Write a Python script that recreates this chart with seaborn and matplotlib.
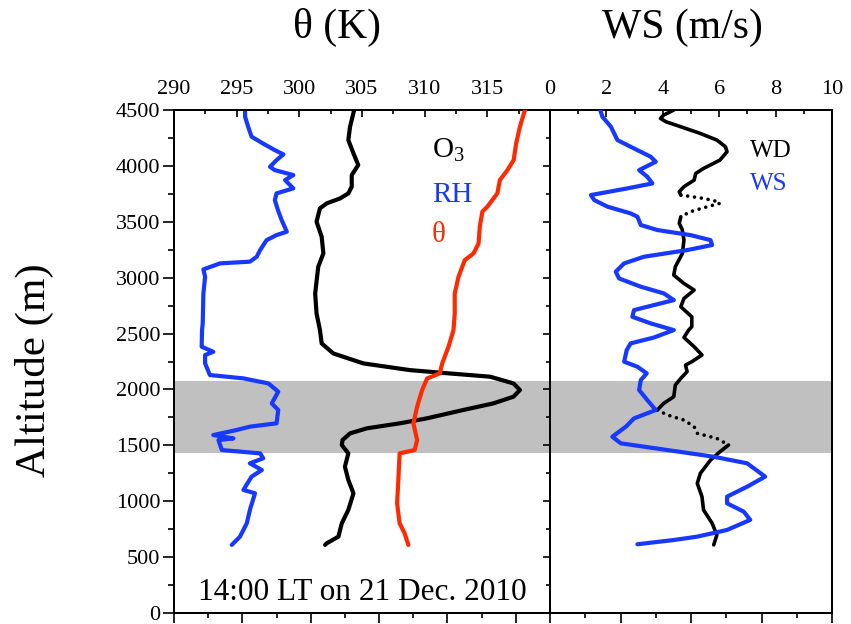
import numpy as np
import pandas as pd
import seaborn as sns
import matplotlib
matplotlib.use("Agg")
import matplotlib.pyplot as plt
from matplotlib.ticker import MultipleLocator, FixedLocator

# ---------------- data ----------------
rh_alt = [4500, 4439, 4350, 4261, 4201, 4141, 4103, 4052, 3992, 3962, 3918, 3873, 3799,
          3754, 3694, 3605, 3515, 3411, 3381, 3336, 3247, 3187, 3143, 3128, 3074, 3008,
          2859, 2591, 2531, 2382, 2337, 2308, 2233, 2129, 2099, 2054, 1980, 1875, 1816,
          1697, 1667, 1637, 1592, 1562, 1547, 1503, 1458, 1428, 1384, 1339, 1279, 1220,
          1101, 1071, 922, 803, 683, 609]
rh_val = [20.8, 20.8, 21.7, 22.7, 26.0, 29.5, 32.0, 30.0, 28.1, 29.5, 34.9, 32.5, 34.9,
          30.0, 29.5, 30.4, 31.5, 33.0, 30.0, 27.1, 25.2, 24.2, 22.2, 13.5, 8.6, 9.1,
          8.6, 8.4, 8.2, 8.1, 11.5, 9.1, 9.1, 10.5, 20.3, 27.6, 30.5, 28.6, 30.5,
          30.0, 22.2, 18.3, 11.5, 17.4, 13.0, 13.5, 14.0, 25.2, 26.1, 22.2, 25.7, 22.7,
          20.3, 23.7, 22.2, 21.3, 19.3, 16.9]

o3_alt = [4500, 4350, 4231, 4112, 4008, 3918, 3814, 3754, 3709, 3665, 3620, 3501, 3366,
          3217, 3098, 2859, 2680, 2531, 2412, 2322, 2233, 2173, 2143, 2114, 2054, 1995,
          1935, 1875, 1816, 1741, 1697, 1652, 1607, 1547, 1503, 1428, 1309, 1190, 1071,
          922, 803, 683, 624, 609]
o3_val = [52.7, 51.5, 51.0, 52.5, 53.9, 52.0, 52.0, 51.0, 48.6, 44.7, 42.7, 41.7, 43.2,
          43.7, 42.2, 41.3, 41.7, 42.7, 43.2, 46.6, 55.4, 69.0, 80.7, 92.5, 99.3, 101.2,
          99.3, 93.4, 84.6, 73.9, 66.1, 56.4, 51.5, 49.3, 49.1, 51.0, 50.0, 51.0, 52.5,
          51.0, 49.1, 48.1, 44.7, 44.2]

th_alt = [4500, 4350, 4201, 4052, 3962, 3873, 3754, 3635, 3590, 3456, 3306, 3217, 3157,
          3008, 2859, 2680, 2531, 2382, 2233, 2143, 2099, 1995, 1846, 1697, 1547, 1458,
          1428, 1190, 981, 803, 713, 609]
th_val = [318.0, 317.6, 317.3, 317.1, 316.6, 316.0, 315.8, 315.0, 314.6, 314.4, 314.3,
          313.9, 313.2, 312.7, 312.4, 312.4, 312.3, 311.9, 311.4, 311.2, 310.2, 309.8,
          309.4, 309.1, 309.4, 309.2, 308.0, 307.9, 307.8, 308.0, 308.4, 308.7]

ws_alt = [4500, 4439, 4350, 4231, 4171, 4082, 4037, 3962, 3903, 3843, 3799, 3739, 3694,
          3635, 3575, 3545, 3471, 3426, 3381, 3336, 3292, 3247, 3187, 3128, 3053, 2993,
          2919, 2859, 2799, 2755, 2710, 2650, 2591, 2531, 2465, 2412, 2352, 2248, 2203,
          2144, 2084, 1995, 1905, 1816, 1741, 1667, 1577, 1518, 1458, 1398, 1339, 1220,
          1130, 1041, 981, 907, 833, 743, 683, 653, 615]
ws_val = [1.78, 1.86, 2.16, 2.39, 2.86, 3.57, 3.75, 3.16, 3.45, 3.63, 2.75, 1.45, 1.57,
          2.04, 2.86, 3.10, 3.22, 3.81, 4.98, 5.69, 5.75, 4.87, 3.33, 2.63, 2.33, 2.45,
          3.22, 4.04, 4.39, 3.69, 2.98, 2.92, 3.57, 4.39, 3.69, 2.86, 2.72, 2.63, 3.10,
          3.43, 3.22, 3.16, 3.45, 3.75, 2.98, 2.69, 2.21, 2.51, 4.16, 5.81, 6.99, 7.63,
          6.99, 6.28, 6.28, 6.87, 7.10, 6.28, 5.22, 4.39, 3.10]

wd_alt = [4500, 4454, 4425, 4395, 4350, 4290, 4231, 4171, 4127, 4052, 3977, 3932, 3873,
          3814, 3769, 3739, 3709, 3679, 3665, 3635, 3590, 3545, 3486, 3426, 3336, 3217,
          3098, 3023, 2948, 2889, 2814, 2740, 2650, 2561, 2531, 2465, 2382, 2308, 2248,
          2218, 2159, 2099, 2039, 1935, 1875, 1816, 1771, 1726, 1667, 1607, 1562, 1503,
          1443, 1369, 1250, 1160, 1041, 922, 803, 698, 609]
wd_val = [158, 145, 141, 148, 167, 192, 213, 224, 226, 217, 196, 186, 184,
          171, 165, 167, 196, 215, 217, 201, 179, 167, 165, 169, 171, 169,
          160, 158, 171, 184, 171, 167, 181, 181, 177, 171, 184, 194, 181,
          173, 175, 167, 160, 158, 145, 137, 150, 171, 184, 188, 213, 228,
          217, 205, 192, 188, 194, 196, 207, 213, 209]
wd_sparse_ranges = [(3545, 3739), (1503, 1816)]   # sections drawn as dots

inversion_layer = (1430, 2080)

theta_ticks = [290, 295, 300, 305, 310, 315, 320]
theta_labels = ["290", "295", "300", "305", "310", "315", ""]
ws_ticks = [0, 2, 4, 6, 8, 10]
alt_ticks = [0, 500, 1000, 1500, 2000, 2500, 3000, 3500, 4000, 4500]

# ---------------- style ----------------
sns.set_theme(style="ticks")
plt.rcParams["font.family"] = ["Liberation Serif", "DejaVu Serif"]
plt.rcParams["mathtext.fontset"] = "custom"
plt.rcParams["mathtext.rm"] = "Liberation Serif"
plt.rcParams["mathtext.it"] = "Liberation Serif"
plt.rcParams["axes.linewidth"] = 1.4
for k in ["text.color", "axes.labelcolor", "xtick.color", "ytick.color",
          "axes.edgecolor", "xtick.labelcolor", "ytick.labelcolor"]:
    plt.rcParams[k] = "black"

BLUE = "#1638ff"
RED = "#ff2a00"
BLACK = "#000000"
GRAY = "#c0c0c0"
LW = 3.0

fig = plt.figure(figsize=(8.51, 6.24), dpi=100)
L, R, MID = 174 / 851, 832 / 851, 550 / 851
B, T = 1 - 613 / 624, 1 - 110 / 624
ax = fig.add_axes([L, B, MID - L, T - B])
ax2 = fig.add_axes([MID, B, R - MID, T - B], sharey=ax)

df_rh = pd.DataFrame({"alt": rh_alt, "val": rh_val})
df_o3 = pd.DataFrame({"alt": o3_alt, "val": o3_val})
df_th = pd.DataFrame({"alt": th_alt, "val": th_val})
df_ws = pd.DataFrame({"alt": ws_alt, "val": ws_val})
df_wd = pd.DataFrame({"alt": wd_alt, "val": wd_val})

# ---------- left panel ----------
ax.set_xlim(290, 320)
ax.set_ylim(0, 4500)

axc = ax.twiny()     # RH / O3 scale (bottom ticks only)
axc.set_xlim(0, 110)
axc.axhspan(*inversion_layer, color=GRAY, lw=0, zorder=0)
sns.lineplot(data=df_rh, x="val", y="alt", sort=False, estimator=None, ax=axc,
             color=BLUE, lw=LW, solid_capstyle="round", solid_joinstyle="round")
sns.lineplot(data=df_o3, x="val", y="alt", sort=False, estimator=None, ax=axc,
             color=BLACK, lw=LW, solid_capstyle="round", solid_joinstyle="round")
sns.lineplot(data=df_th, x="val", y="alt", sort=False, estimator=None, ax=ax,
             color=RED, lw=LW, solid_capstyle="round", solid_joinstyle="round", zorder=3)
ax.set_zorder(axc.get_zorder() + 1)
ax.patch.set_visible(False)
axc.patch.set_visible(False)

ax.set_xticks(theta_ticks)
ax.set_xticklabels(theta_labels)
ax.xaxis.set_minor_locator(MultipleLocator(2.5))
ax.set_yticks(alt_ticks)
ax.yaxis.set_minor_locator(MultipleLocator(250))
ax.xaxis.set_ticks_position("top")
ax.xaxis.set_label_position("top")
ax.tick_params(axis="x", which="both", top=True, bottom=False, direction="in",
               labeltop=True, labelbottom=False, labelsize=16, pad=8)
ax.tick_params(axis="x", which="major", length=5, width=1.2)
ax.tick_params(axis="x", which="minor", length=3, width=1.2)
ax.tick_params(axis="y", which="both", left=True, right=False, direction="out",
               labelleft=True, labelsize=16, pad=2)
ax.tick_params(axis="y", which="major", length=8, width=1.2)
ax.tick_params(axis="y", which="minor", length=4, width=1.2)
ax.set_xlabel("")
ax.set_ylabel("")

axc.xaxis.set_ticks_position("bottom")
axc.xaxis.set_major_locator(MultipleLocator(20))
axc.xaxis.set_minor_locator(FixedLocator([10, 30, 50, 70, 90]))
axc.tick_params(axis="x", which="both", direction="out", labelbottom=False,
                labeltop=False, top=False, bottom=True)
axc.tick_params(axis="x", which="major", length=7, width=1.2)
axc.tick_params(axis="x", which="minor", length=3.5, width=1.2)
axc.set_xlabel("")
axc.set_ylabel("")
axc.tick_params(axis="y", left=False, right=False, labelleft=False, labelright=False)

# right-side inward ticks on left panel
axr = ax.secondary_yaxis("right")
axr.set_yticks(alt_ticks)
axr.yaxis.set_minor_locator(MultipleLocator(250))
axr.tick_params(axis="y", which="both", direction="in", labelright=False)
axr.tick_params(axis="y", which="major", length=5, width=1.2)
axr.tick_params(axis="y", which="minor", length=3, width=1.2)

ax.text(0.5, 0.026, "14:00 LT on 21 Dec. 2010", transform=ax.transAxes,
        ha="center", va="baseline", fontsize=22.5, color="black")
ax.text(0.686, 0.905, r"O$_3$", transform=ax.transAxes, ha="left", va="baseline",
        fontsize=21, color=BLACK)
ax.text(0.686, 0.817, "RH", transform=ax.transAxes, ha="left", va="baseline",
        fontsize=21, color=BLUE)
ax.text(0.686, 0.738, "\u03b8", transform=ax.transAxes, ha="left", va="baseline",
        fontsize=21, color=RED)

# ---------- right panel ----------
ax2.set_xlim(0, 10)
axd = ax2.twiny()   # WD scale (bottom ticks only)
axd.set_xlim(0, 360)
axd.axhspan(*inversion_layer, color=GRAY, lw=0, zorder=0)

# split WD into dense (solid) and sparse (dotted) runs
alts = np.array(wd_alt, dtype=float)
sparse = np.zeros(len(alts), dtype=bool)
edge = np.zeros(len(alts), dtype=bool)
for lo, hi in wd_sparse_ranges:
    sparse |= (alts >= lo) & (alts <= hi)
    edge |= (alts == lo) | (alts == hi)
runs = []
cur_kind, cur = None, []
for i in range(len(alts)):
    kind = "dot" if sparse[i] else "solid"
    if cur_kind is None:
        cur_kind, cur = kind, [i]
    elif kind == cur_kind:
        cur.append(i)
    else:
        if edge[i]:
            cur.append(i)
            runs.append((cur_kind, cur))
            cur_kind, cur = kind, [i]
        else:
            runs.append((cur_kind, cur))
            cur_kind, cur = kind, [cur[-1], i]
runs.append((cur_kind, cur))
for kind, idx in runs:
    sub = df_wd.iloc[idx]
    if kind == "solid":
        sns.lineplot(data=sub, x="val", y="alt", sort=False, estimator=None, ax=axd,
                     color=BLACK, lw=2.6, solid_capstyle="round", solid_joinstyle="round")
    else:
        sns.lineplot(data=sub, x="val", y="alt", sort=False, estimator=None, ax=axd,
                     color=BLACK, lw=2.6, linestyle=(0, (0.01, 1.9)),
                     dash_capstyle="round")

sns.lineplot(data=df_ws, x="val", y="alt", sort=False, estimator=None, ax=ax2,
             color=BLUE, lw=LW, solid_capstyle="round", solid_joinstyle="round", zorder=3)
ax2.set_zorder(axd.get_zorder() + 1)
ax2.patch.set_visible(False)
axd.patch.set_visible(False)

ax2.set_xticks(ws_ticks)
ax2.xaxis.set_minor_locator(MultipleLocator(1))
ax2.xaxis.set_ticks_position("top")
ax2.tick_params(axis="x", which="both", top=True, bottom=False, direction="in",
                labeltop=True, labelbottom=False, labelsize=16, pad=8)
ax2.tick_params(axis="x", which="major", length=5, width=1.2)
ax2.tick_params(axis="x", which="minor", length=3, width=1.2)
ax2.tick_params(axis="y", which="both", left=False, right=False,
                labelleft=False, labelright=False)
ax2.set_xlabel("")
ax2.set_ylabel("")

axd.xaxis.set_ticks_position("bottom")
axd.xaxis.set_major_locator(MultipleLocator(90))
axd.xaxis.set_minor_locator(FixedLocator([45, 135, 225, 315]))
axd.tick_params(axis="x", which="both", direction="out", labelbottom=False,
                labeltop=False, top=False, bottom=True)
axd.tick_params(axis="x", which="major", length=7, width=1.2)
axd.tick_params(axis="x", which="minor", length=3.5, width=1.2)
axd.tick_params(axis="y", left=False, right=False, labelleft=False, labelright=False)
axd.set_xlabel("")
axd.set_ylabel("")

ax2.text(0.709, 0.907, "WD", transform=ax2.transAxes, ha="left", va="baseline",
         fontsize=18, color=BLACK)
ax2.text(0.709, 0.841, "WS", transform=ax2.transAxes, ha="left", va="baseline",
         fontsize=18, color=BLUE)

ax.set_ylim(0, 4500)

# ---------- titles ----------
fig.text(337 / 851, 1 - 38 / 624, "\u03b8 (K)", ha="center", va="baseline", fontsize=30)
fig.text(682 / 851, 1 - 38 / 624, "WS (m/s)", ha="center", va="baseline", fontsize=30)
fig.text(34 / 851, 1 - 370 / 624, "Altitude (m)", ha="center", va="center",
         rotation=90, fontsize=31)

fig.savefig("out.png", dpi=100, facecolor="white")
